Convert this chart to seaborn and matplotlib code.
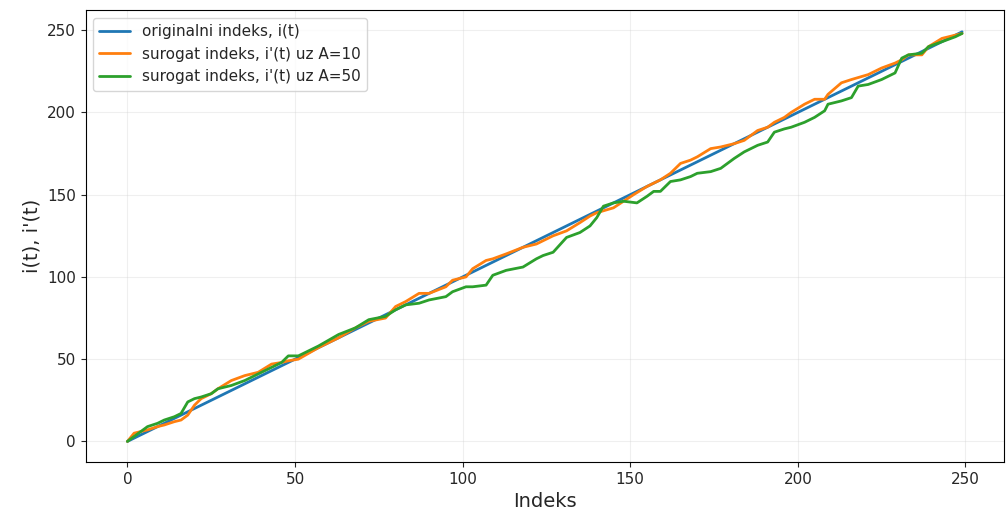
import pandas as pd
import matplotlib.pyplot as plt
import seaborn as sns

# original index i(t) (a straight line from 0 to 249)
orig_t = [0, 249]
orig_v = [0, 249]

# surrogate index, A=10
a10_t = [0, 2, 6, 9, 11, 14, 16, 18, 20, 22, 25, 27, 31, 35, 39, 43, 46, 48, 51, 57,
         63, 68, 72, 77, 80, 83, 87, 90, 95, 97, 101, 103, 107, 109, 113, 118, 122, 124,
         127, 131, 135, 138, 140, 145, 151, 155, 157, 159, 162, 165, 168, 170, 174, 177,
         181, 184, 188, 191, 193, 196, 198, 202, 205, 208, 209, 213, 216, 221, 225, 229,
         231, 233, 237, 239, 243, 247, 249]
a10_v = [0, 5, 7, 9, 10, 12, 13, 16, 22, 26, 29, 32, 37, 40, 42, 47, 48, 49, 50, 57,
         63, 69, 73, 75, 82, 85, 90, 90, 94, 98, 100, 105, 110, 111, 114, 118, 120, 122,
         125, 128, 133, 137, 139, 142, 150, 155, 157, 159, 163, 169, 171, 173, 178, 179,
         181, 183, 189, 191, 194, 197, 200, 205, 208, 208, 211, 218, 220, 223, 227, 230,
         232, 235, 235, 240, 245, 247, 248]

# surrogate index, A=50
a50_t = [0, 2, 6, 9, 11, 14, 16, 18, 20, 22, 25, 27, 31, 35, 39, 43, 46, 48, 51, 57,
         63, 68, 72, 77, 80, 83, 87, 90, 95, 97, 101, 103, 107, 109, 113, 118, 122, 124,
         127, 131, 135, 138, 140, 142, 145, 148, 152, 155, 157, 159, 162, 165, 168, 170,
         174, 177, 181, 184, 188, 191, 193, 196, 198, 202, 205, 208, 209, 213, 216, 218,
         221, 225, 229, 231, 233, 237, 239, 243, 247, 249]
a50_v = [0, 3, 9, 11, 13, 15, 17, 24, 26, 27, 29, 32, 34, 37, 41, 45, 48, 52, 52, 58,
         65, 69, 74, 76, 80, 83, 84, 86, 88, 91, 94, 94, 95, 101, 104, 106, 111, 113,
         115, 124, 127, 131, 136, 143, 145, 146, 145, 149, 152, 152, 158, 159, 161, 163,
         164, 166, 172, 176, 180, 182, 188, 190, 191, 194, 197, 201, 205, 207, 209, 216,
         217, 220, 224, 233, 235, 236, 240, 243, 246, 248]

labels = ["originalni indeks, i(t)",
          "surogat indeks, i'(t) uz A=10",
          "surogat indeks, i'(t) uz A=50"]

df = pd.concat([
    pd.DataFrame({'t': orig_t, 'v': orig_v, 'serija': labels[0]}),
    pd.DataFrame({'t': a10_t, 'v': a10_v, 'serija': labels[1]}),
    pd.DataFrame({'t': a50_t, 'v': a50_v, 'serija': labels[2]}),
])

sns.set_style('ticks')
plt.rcParams['font.family'] = ['DejaVu Sans']

fig, ax = plt.subplots(figsize=(10.06, 5.22), dpi=100)
sns.lineplot(data=df, x='t', y='v', hue='serija', hue_order=labels,
             palette=['#1f77b4', '#ff7f0e', '#2ca02c'], linewidth=2,
             sort=False, estimator=None, ax=ax)

ax.set_xlim(-12.5, 261.5)
ax.set_ylim(-12.5, 262)
ax.set_xticks([0, 50, 100, 150, 200, 250])
ax.set_yticks([0, 50, 100, 150, 200, 250])
ax.tick_params(labelsize=11)
ax.grid(True, alpha=0.3)
ax.set_xlabel('Indeks', fontsize=14)
ax.set_ylabel("i(t), i'(t)", fontsize=14)
ax.legend(title=None, loc='upper left', fontsize=11)
for s in ax.spines.values():
    s.set_visible(True)
    s.set_color('black')

plt.subplots_adjust(left=0.085, right=0.998, top=0.98, bottom=0.115)
plt.savefig('out.png', dpi=100)
